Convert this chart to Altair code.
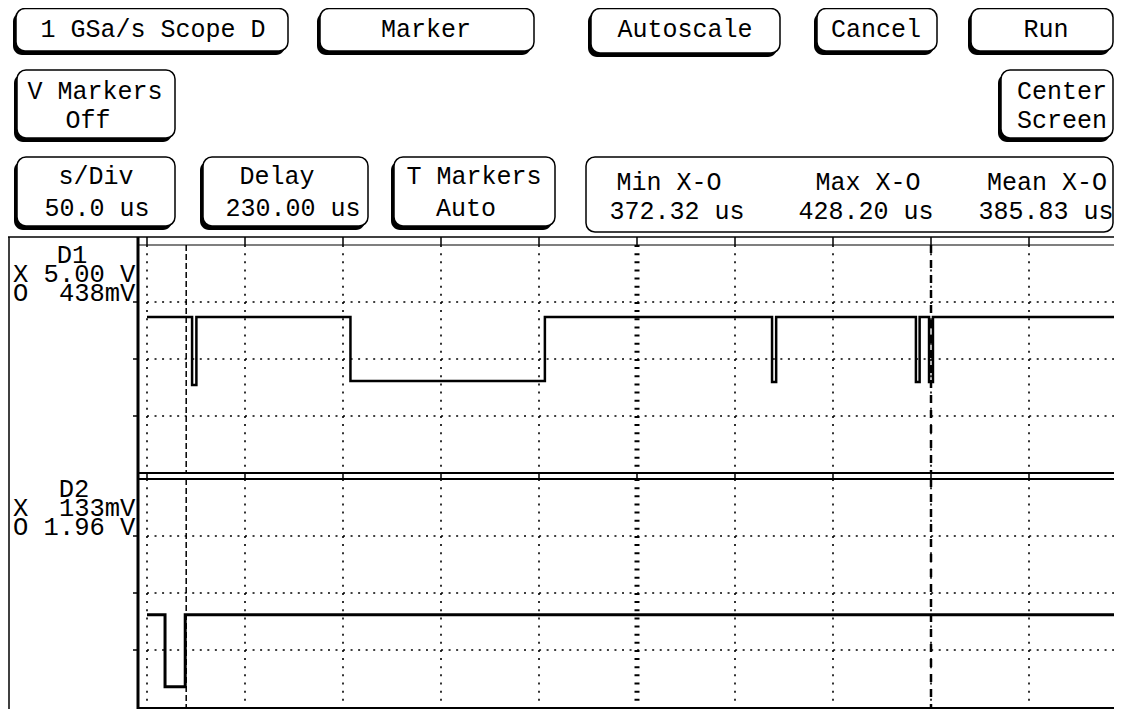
import altair as alt
import pandas as pd

# ---------------- scope settings / readings ----------------
T_PER_DIV = 50.0            # s/Div  = 50.0 us
DELAY = 230.0               # Delay  = 230.00 us (screen centre)
N_DIV_X = 10
T_LEFT = DELAY - 5 * T_PER_DIV
T_RIGHT = DELAY + 5 * T_PER_DIV
D1_VDIV, D1_OFFSET = 5.00, 0.438
D2_VDIV, D2_OFFSET = 0.133, 1.96
X_MARKER_T = 0.0
O_MARKER_T = 380.0

# D1 trace (corner points, us / V)
d1_t = [-20.0, 3.0, 3.0, 5.2, 5.2, 83.8, 83.8, 183.0, 183.0, 298.9, 298.9, 301.0, 301.0,
        372.3, 372.3, 374.2, 374.2, 379.0, 379.0, 381.0, 381.0, 480.0]
d1_v = [4.12, 4.12, -1.84, -1.84, 4.12, 4.12, -1.49, -1.49, 4.12, 4.12, -1.58, -1.58, 4.12,
        4.12, -1.58, -1.58, 4.12, 4.12, -1.58, -1.58, 4.12, 4.12]
# D2 trace
d2_t = [-20.0, -10.8, -10.8, -0.5, -0.5, 480.0]
d2_v = [1.909, 1.909, 1.741, 1.741, 1.909, 1.909]

button_labels = ["1 GSa/s Scope D", "Marker", "Autoscale", "Cancel", "Run",
                 "V Markers", "Off", "Center", "Screen",
                 "s/Div", "50.0 us", "Delay", "230.00 us", "T Markers", "Auto",
                 "Min X-O", "372.32 us", "Max X-O", "428.20 us", "Mean X-O", "385.83 us"]
channel_names = ["D1", "D2"]
marker_letters = ["X", "O"]
channel_values = [["5.00 V", "438mV"], ["133mV", "1.96 V"]]

# ---------------- layout (page pixels) ----------------
OFF = 8
W, H = 1106, 701
RIGHT = 1113
FONT = "Liberation Mono"
FS = 25
FS2 = 25.5
COLS = 8   # character cells in the channel label box

label_pos = [(153, 29), (426, 29), (685, 29), (876, 29), (1046, 29),
             (95, 91), (88, 120), (1062, 91), (1062, 120),
             (96, 176), (97, 208), (277, 176), (293, 208), (474, 176), (466, 208),
             (669, 182), (677, 211), (868, 182), (866, 211), (1047, 182), (1046, 211)]
name_pos = [(72, 263), (74, 497)]     # centre / baseline of channel name
box_pos = [(13, 282), (13, 516)]      # left edge / first baseline of the X/O rows


def box_lines(values):
    nb = "\u00a0"
    rows = [letter + val.rjust(COLS - 1).replace(" ", nb)
            for letter, val in zip(marker_letters, values)]
    return "\n".join(rows)


# buttons: x0, x1, y0, y1, has_shadow
buttons = [(16, 288, 8.5, 51, True), (320, 534, 8.5, 51, True), (591, 780, 8.5, 53, True),
           (817, 937, 8.5, 51, True), (971, RIGHT, 8.5, 51, True),
           (17, 175, 70, 138, True), (1001, RIGHT, 70, 138, True),
           (17, 175, 157, 226, True), (203, 368, 157, 226, True), (394, 555, 157, 226, True),
           (586, RIGHT, 157, 232, False)]

# frame segments: x0, x1, y0, y1, width
frame = [(0, 1122, 237, 237, 1.5), (137, 1122, 245, 245, 1.2),
         (137, 1122, 473, 473, 2.0), (137, 1122, 479, 479, 2.0), (137, 1122, 708, 708, 2.0),
         (9, 9, 237, 717, 1.5), (138, 138, 237, 717, 3.0)]

# ---------------- scales ----------------
tscale = alt.Scale(domain=[T_LEFT, T_RIGHT], range=[147 - OFF, 1127 - OFF], nice=False, zero=False)
y1s = alt.Scale(domain=[D1_OFFSET - 2 * D1_VDIV, D1_OFFSET + 2 * D1_VDIV],
                range=[473 - OFF, 245 - OFF], nice=False, zero=False)
y2s = alt.Scale(domain=[D2_OFFSET - 2 * D2_VDIV, D2_OFFSET + 2 * D2_VDIV],
                range=[707 - OFF, 479 - OFF], nice=False, zero=False)
pxs = alt.Scale(domain=[0, 1122], range=[-OFF, 1122 - OFF], nice=False, zero=False)
pys = alt.Scale(domain=[0, 717], range=[-OFF, 717 - OFF], nice=False, zero=False)

layers = []

# ---- buttons ----
bdf = pd.DataFrame(buttons, columns=["x0", "x1", "y0", "y1", "shadow"])
sdf = bdf[bdf.shadow].copy()
sdf["x0"] -= 3; sdf["x1"] -= 3; sdf["y0"] += 4; sdf["y1"] += 4
layers.append(alt.Chart(sdf).mark_rect(cornerRadius=9, color="black").encode(
    x=alt.X("x0:Q", scale=pxs, axis=None), x2="x1:Q",
    y=alt.Y("y0:Q", scale=pys, axis=None), y2="y1:Q"))
layers.append(alt.Chart(bdf).mark_rect(cornerRadius=9, fill="white", stroke="black", strokeWidth=1.5).encode(
    x=alt.X("x0:Q", scale=pxs, axis=None), x2="x1:Q",
    y=alt.Y("y0:Q", scale=pys, axis=None), y2="y1:Q"))

# ---- texts ----
tdf = pd.DataFrame({"label": button_labels, "x": [p[0] for p in label_pos], "y": [p[1] for p in label_pos]})
layers.append(alt.Chart(tdf).mark_text(font=FONT, fontSize=FS, align="center", baseline="middle",
                                       color="black").encode(
    x=alt.X("x:Q", scale=pxs, axis=None), y=alt.Y("y:Q", scale=pys, axis=None), text="label:N"))

ndf = pd.DataFrame({"label": channel_names, "x": [p[0] for p in name_pos], "y": [p[1] for p in name_pos]})
layers.append(alt.Chart(ndf).mark_text(font=FONT, fontSize=FS2, align="center", baseline="alphabetic",
                                       color="black").encode(
    x=alt.X("x:Q", scale=pxs, axis=None), y=alt.Y("y:Q", scale=pys, axis=None), text="label:N"))

cdf = pd.DataFrame({"label": [box_lines(v) for v in channel_values],
                    "x": [p[0] for p in box_pos], "y": [p[1] for p in box_pos]})
layers.append(alt.Chart(cdf).mark_text(font=FONT, fontSize=FS2, align="left", baseline="alphabetic",
                                       lineBreak="\n", lineHeight=19, color="black").encode(
    x=alt.X("x:Q", scale=pxs, axis=None), y=alt.Y("y:Q", scale=pys, axis=None), text="label:N"))

# ---- frame ----
fdf = pd.DataFrame(frame, columns=["x0", "x1", "y0", "y1", "w"])
for w, g in fdf.groupby("w"):
    layers.append(alt.Chart(g).mark_rule(color="black", strokeWidth=float(w)).encode(
        x=alt.X("x0:Q", scale=pxs, axis=None), x2="x1:Q",
        y=alt.Y("y0:Q", scale=pys, axis=None), y2="y1:Q"))

# ---- grid ----
grid_all = pd.DataFrame({"t": [T_LEFT + k * T_PER_DIV for k in range(N_DIV_X + 1)]})
grid_dot = grid_all[(grid_all.t != DELAY) & (grid_all.t < T_RIGHT)]

panels = [(y1s, D1_OFFSET, D1_VDIV), (y2s, D2_OFFSET, D2_VDIV)]
for ys, off, vd in panels:
    top, bot = off + 2 * vd, off - 2 * vd
    # vertical dotted grid
    layers.append(alt.Chart(grid_dot).mark_rule(color="black", strokeWidth=1.6, strokeDash=[2, 6.14]).encode(
        x=alt.X("t:Q", scale=tscale, axis=None),
        y=alt.YDatum(top, scale=ys, axis=None), y2=alt.Y2Datum(bot)))
    # centre graticule
    layers.append(alt.Chart(pd.DataFrame({"t": [DELAY]})).mark_rule(
        color="black", strokeWidth=5, strokeDash=[2, 6.14]).encode(
        x=alt.X("t:Q", scale=tscale, axis=None),
        y=alt.YDatum(top, scale=ys, axis=None), y2=alt.Y2Datum(bot)))
    # horizontal dotted grid
    hdf = pd.DataFrame({"v": [off - vd, off, off + vd]})
    layers.append(alt.Chart(hdf).mark_rule(color="black", strokeWidth=1.6, strokeDash=[2, 5.54]).encode(
        y=alt.Y("v:Q", scale=ys, axis=None),
        x=alt.XDatum(T_LEFT, scale=tscale, axis=None), x2=alt.X2Datum(T_RIGHT)))
    # y ticks left of the axis
    layers.append(alt.Chart(hdf).mark_rule(color="black", strokeWidth=1.5).encode(
        y=alt.Y("v:Q", scale=ys, axis=None), x=alt.value(133 - OFF), x2=alt.value(138 - OFF)))
    # X marker
    layers.append(alt.Chart(pd.DataFrame({"t": [X_MARKER_T]})).mark_rule(
        color="black", strokeWidth=1.5, strokeDash=[6, 3]).encode(
        x=alt.X("t:Q", scale=tscale, axis=None),
        y=alt.YDatum(top, scale=ys, axis=None), y2=alt.Y2Datum(bot)))
    # O marker
    layers.append(alt.Chart(pd.DataFrame({"t": [O_MARKER_T]})).mark_rule(
        color="black", strokeWidth=2.5, strokeDash=[8, 7]).encode(
        x=alt.X("t:Q", scale=tscale, axis=None),
        y=alt.YDatum(top, scale=ys, axis=None), y2=alt.Y2Datum(bot)))

# frame ticks at grid positions (between the double lines)
for ya, yb in [(237, 245), (473, 479)]:
    layers.append(alt.Chart(grid_all).mark_rule(color="black", strokeWidth=1.5).encode(
        x=alt.X("t:Q", scale=tscale, axis=None),
        y=alt.value(ya - OFF), y2=alt.value(yb - OFF)))

# ---- traces ----
d1 = pd.DataFrame({"t": d1_t, "v": d1_v, "i": range(len(d1_t))})
d2 = pd.DataFrame({"t": d2_t, "v": d2_v, "i": range(len(d2_t))})
layers.append(alt.Chart(d1).mark_line(color="black", strokeWidth=2.5, strokeJoin="miter").encode(
    x=alt.X("t:Q", scale=tscale, axis=None), y=alt.Y("v:Q", scale=y1s, axis=None),
    order="i:Q"))
layers.append(alt.Chart(d2).mark_line(color="black", strokeWidth=3, strokeJoin="miter").encode(
    x=alt.X("t:Q", scale=tscale, axis=None), y=alt.Y("v:Q", scale=y2s, axis=None),
    order="i:Q"))

chart = alt.layer(*layers).resolve_scale(x="independent", y="independent").properties(
    width=W, height=H, padding=0,
    autosize=alt.AutoSizeParams(type="none"),
    background="white",
).configure_view(stroke=None)

chart.save("out.html", embed_options={"renderer": "svg", "actions": False})
